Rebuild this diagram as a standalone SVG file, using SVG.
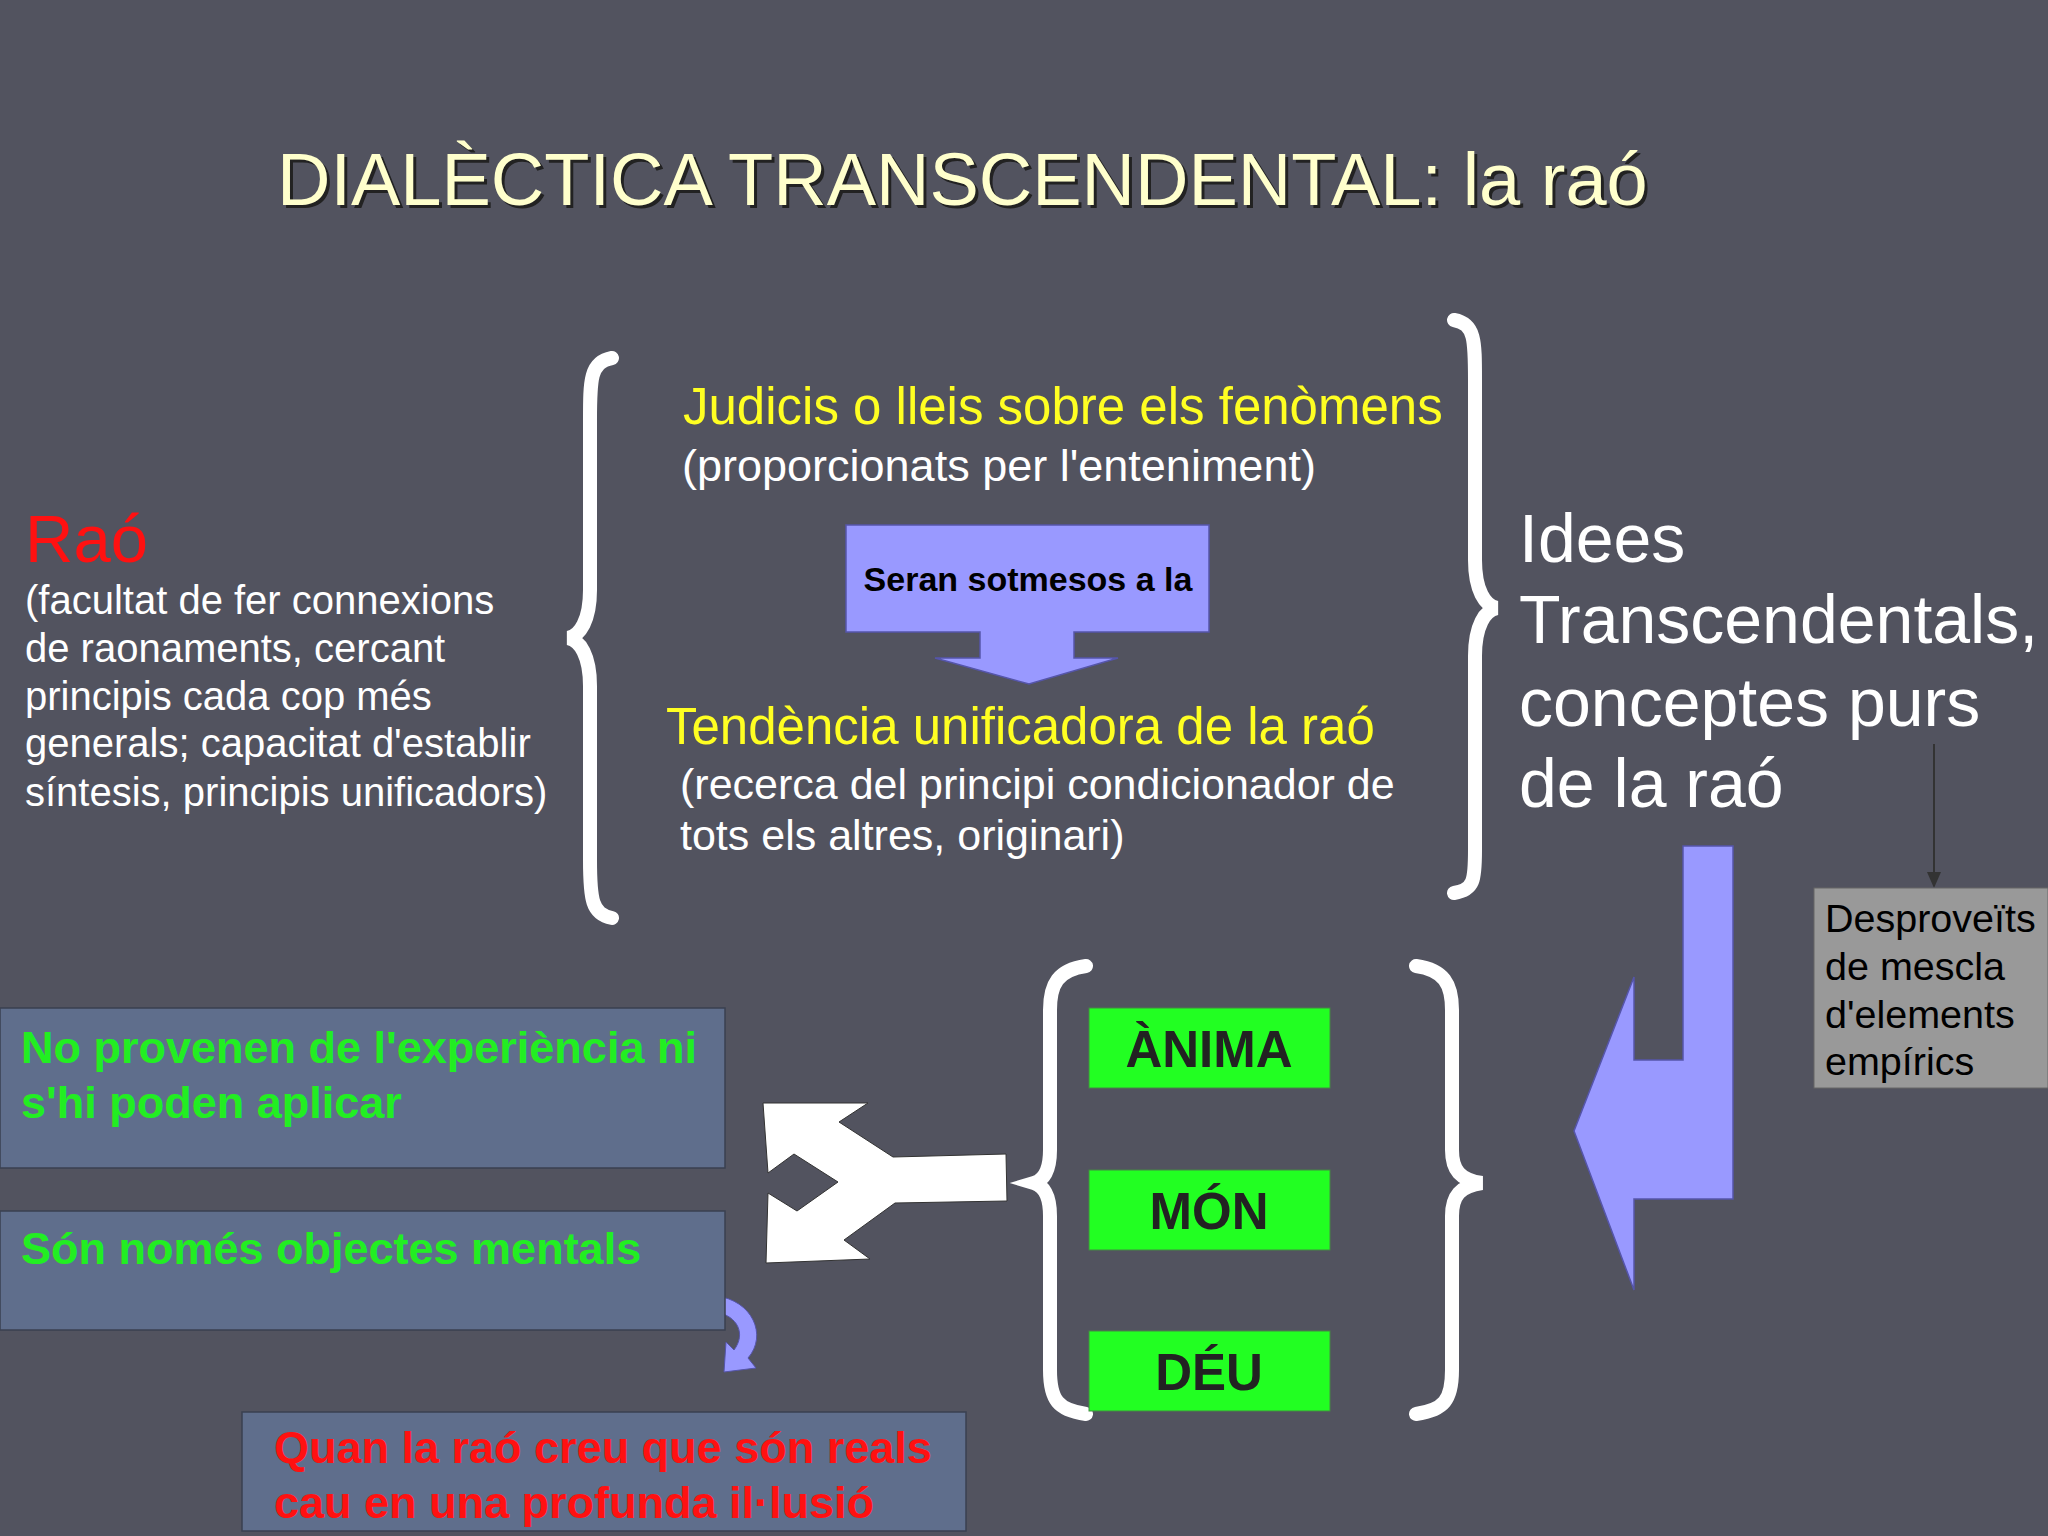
<svg xmlns="http://www.w3.org/2000/svg" width="2048" height="1536" viewBox="0 0 2048 1536">
<style>
.s{font-family:"Liberation Sans",Arial,sans-serif}
.w{fill:#ffffff}.y{fill:#ffff22}
.b{font-weight:bold}
.brace{fill:none;stroke:#ffffff;stroke-width:14;stroke-linecap:round}
.gb{fill:#22ff22;stroke:#448844;stroke-width:1}
.lb{fill:#5f6e8c;stroke:#3a4050;stroke-width:1.5}
</style>
<defs>
<marker id="ah" markerWidth="16" markerHeight="14" refX="14" refY="7" orient="auto" markerUnits="userSpaceOnUse"><path d="M0,0 L16,7 L0,14 Z" fill="#333"/></marker>
</defs>
<rect width="2048" height="1536" fill="#52535f"/>
<g id="title"><text x="280" y="208" class="s" font-size="74" fill="#222">DIALÈCTICA TRANSCENDENTAL: la raó</text><text x="277" y="205" class="s" font-size="74" fill="#ffffcc">DIALÈCTICA TRANSCENDENTAL: la raó</text></g>
<g id="rao" class="s w" font-size="40">
<text x="25" y="562" font-size="67" fill="#ff1111">Raó</text>
<text x="25" y="614">(facultat de fer connexions</text>
<text x="25" y="662">de raonaments, cercant</text>
<text x="25" y="710">principis cada cop més</text>
<text x="25" y="757">generals; capacitat d'establir</text>
<text x="25" y="806">síntesis, principis unificadors)</text>
</g>
<g id="connectors">
<path class="brace" d="M612,358 C590,362 590,380 590,420 L590,590 C590,620 580,636 568,638 C580,640 590,656 590,686 L590,860 C590,900 592,914 612,918"/>
<path class="brace" d="M1454,320 C1475,324 1475,340 1475,380 L1475,560 C1475,590 1485,606 1497,608 C1485,610 1475,626 1475,656 L1475,850 C1475,880 1474,890 1454,893"/>
<path class="brace" d="M1086,966 C1058,970 1050,984 1050,1010 L1050,1150 C1050,1170 1044,1180 1034,1183 C1044,1186 1050,1196 1050,1216 L1050,1370 C1050,1400 1058,1410 1086,1414"/>
<path class="brace" d="M1416,966 C1444,970 1452,984 1452,1010 L1452,1150 C1452,1170 1460,1180 1482,1183 C1460,1186 1452,1196 1452,1216 L1452,1370 C1452,1400 1444,1410 1416,1414"/>
<line x1="1934" y1="744" x2="1934" y2="886" stroke="#333" stroke-width="2" marker-end="url(#ah)"/>
<polygon points="1683,846 1733,846 1733,1199 1634,1199 1634,1290 1574,1131 1634,977 1634,1060 1683,1060" fill="#9999ff" stroke="#5555aa" stroke-width="1.5"/>
<polygon points="763,1103 868,1103 839,1122 893,1157 1006,1154 1007,1201 895,1203 844,1240 870,1259 766,1263 768,1193 797,1211 838,1182 794,1154 768,1173" fill="#ffffff" stroke="#333" stroke-width="1"/>
<path d="M716,1296 C752,1300 768,1335 748,1358 L756,1368 L724,1372 L726,1342 L734,1350 C746,1334 738,1316 716,1312 Z" fill="#9999ff" stroke="#5555aa" stroke-width="1"/>
</g>
<g id="judicis" class="s">
<text x="683" y="424" font-size="51" class="y">Judicis o lleis sobre els fenòmens</text>
<text x="682" y="481" font-size="45" class="w">(proporcionats per l'enteniment)</text>
</g>
<g id="seran">
<path d="M846,525 H1209 V632 H1074 V658 H1118 L1029,684 L935,658 H980 V632 H846 Z" fill="#9999ff" stroke="#5555aa" stroke-width="1.5"/>
<text x="1028" y="591" text-anchor="middle" class="s b" font-size="34" fill="#000">Seran sotmesos a la</text>
</g>
<g id="tendencia" class="s">
<text x="666" y="744" font-size="51" class="y">Tendència unificadora de la raó</text>
<text x="680" y="799" font-size="43" class="w">(recerca del principi condicionador de</text>
<text x="680" y="850" font-size="43" class="w">tots els altres, originari)</text>
</g>
<g id="idees" class="s w" font-size="68">
<text x="1519" y="562">Idees</text>
<text x="1519" y="643">Transcendentals,</text>
<text x="1519" y="726">conceptes purs</text>
<text x="1519" y="807">de la raó</text>
</g>
<g id="desproveits" class="s" font-size="39.5">
<rect x="1814" y="888" width="234" height="200" fill="#999999" stroke="#666"/>
<text x="1825" y="932" fill="#000">Desproveïts</text>
<text x="1825" y="980" fill="#000">de mescla</text>
<text x="1825" y="1028" fill="#000">d'elements</text>
<text x="1825" y="1075" fill="#000">empírics</text>
</g>
<g id="anima"><rect class="gb" x="1089" y="1008" width="241" height="80"/><text x="1209" y="1067" text-anchor="middle" class="s b" font-size="51" fill="#222">ÀNIMA</text></g>
<g id="mon"><rect class="gb" x="1089" y="1170" width="241" height="80"/><text x="1209" y="1229" text-anchor="middle" class="s b" font-size="51" fill="#222">MÓN</text></g>
<g id="deu"><rect class="gb" x="1089" y="1331" width="241" height="80"/><text x="1209" y="1390" text-anchor="middle" class="s b" font-size="51" fill="#222">DÉU</text></g>
<g id="noprovenen" class="s b" font-size="45" fill="#22ee22">
<rect class="lb" x="0" y="1008" width="725" height="160"/>
<text x="21" y="1063">No provenen de l'experiència ni</text>
<text x="21" y="1118">s'hi poden aplicar</text>
</g>
<g id="objectes" class="s b" font-size="45" fill="#22ee22">
<rect class="lb" x="0" y="1211" width="725" height="119"/>
<text x="21" y="1264">Són només objectes mentals</text>
</g>
<g id="quan" class="s b" font-size="45" fill="#ff1111">
<rect class="lb" x="242" y="1412" width="724" height="119"/>
<text x="274" y="1463">Quan la raó creu que són reals</text>
<text x="274" y="1518">cau en una profunda il·lusió</text>
</g>
</svg>
